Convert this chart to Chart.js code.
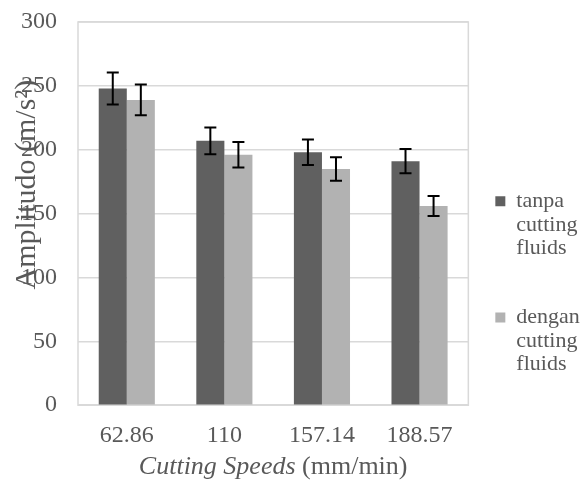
<!DOCTYPE html>
<html>
<head>
<meta charset="utf-8">
<script src="https://cdn.jsdelivr.net/npm/chart.js@4/dist/chart.umd.min.js"></script>
<style>
  html, body { margin: 0; padding: 0; background: #fff; }
  #wrap { width: 581px; height: 482px; }
</style>
</head>
<body>
<div id="wrap"><canvas id="ampChart" width="581" height="482"></canvas></div>
<script>
const categories = ['62.86', '110', '157.14', '188.57'];
const tanpaValues = [248, 207, 198, 191];
const tanpaErrors = [12.5, 10.5, 10, 9.5];
const denganValues = [239, 196, 185, 156];
const denganErrors = [12, 10, 9.2, 7.8];
const yTicks = [0, 50, 100, 150, 200, 250, 300];
// legend labels wrapped on lines; the blank last line gives the gap between items
const legendTanpa = ['tanpa', 'cutting', 'fluids', ''];
const legendDengan = ['dengan', 'cutting', 'fluids', ''];

const textColor = '#595959';
const serif = '"Liberation Serif", "Times New Roman", serif';

// frame around the plot area
const framePlugin = {
    id: 'frame',
    beforeDatasetsDraw(chart) {
        const a = chart.chartArea;
        const ctx = chart.ctx;
        ctx.save();
        ctx.strokeStyle = '#d9d9d9';
        ctx.lineWidth = 1.5;
        ctx.strokeRect(a.left, a.top, a.right - a.left, a.bottom - a.top);
        ctx.restore();
    }
};

// legend measures only the longest-by-chars line, so give it a bit more room
const legendWidthPlugin = {
    id: 'legendWidth',
    beforeLayout(chart) {
        const lg = chart.legend;
        if (lg && !lg._widened) {
            const fit = lg.fit;
            lg.fit = function () {
                fit.call(this);
                this.width += 10;
            };
            lg._widened = true;
        }
    }
};

// error bars from the error arrays
const errorBarPlugin = {
    id: 'errorBars',
    afterDatasetsDraw(chart) {
        const ctx = chart.ctx;
        const yScale = chart.scales.y;
        ctx.save();
        ctx.strokeStyle = '#000';
        ctx.lineWidth = 2;
        chart.data.datasets.forEach((ds, i) => {
            const meta = chart.getDatasetMeta(i);
            meta.data.forEach((bar, j) => {
                const v = ds.data[j];
                const e = ds.errors[j];
                const yTop = yScale.getPixelForValue(v + e);
                const yBot = yScale.getPixelForValue(v - e);
                const x = bar.x;
                ctx.beginPath();
                ctx.moveTo(x, yTop); ctx.lineTo(x, yBot);
                ctx.moveTo(x - 6, yTop); ctx.lineTo(x + 6, yTop);
                ctx.moveTo(x - 6, yBot); ctx.lineTo(x + 6, yBot);
                ctx.stroke();
            });
        });
        ctx.restore();
    }
};

// axis titles: y drawn over the tick labels like the original,
// x with the italic part
const titlesPlugin = {
    id: 'titles',
    afterDraw(chart) {
        const a = chart.chartArea;
        const ctx = chart.ctx;
        ctx.save();
        ctx.fillStyle = textColor;
        ctx.textBaseline = 'middle';

        ctx.save();
        ctx.translate(a.left - 51, (a.top + a.bottom) / 2 - 29);
        ctx.rotate(-Math.PI / 2);
        ctx.font = '30px ' + serif;
        ctx.textAlign = 'center';
        ctx.fillText('Amplitudo (m/s²)', 0, 0);
        ctx.restore();

        const part1 = 'Cutting Speeds';
        const part2 = ' (mm/min)';
        ctx.font = 'italic 26px ' + serif;
        const w1 = ctx.measureText(part1).width;
        ctx.font = '26px ' + serif;
        const w2 = ctx.measureText(part2).width;
        const x0 = (a.left + a.right) / 2 - (w1 + w2) / 2;
        const y0 = chart.height - 15;
        ctx.textAlign = 'left';
        ctx.font = 'italic 26px ' + serif;
        ctx.fillText(part1, x0, y0);
        ctx.font = '26px ' + serif;
        ctx.fillText(part2, x0 + w1, y0);
        ctx.restore();
    }
};

const ctx = document.getElementById('ampChart').getContext('2d');
new Chart(ctx, {
    type: 'bar',
    data: {
        labels: categories,
        datasets: [
            {
                label: legendTanpa,
                data: tanpaValues,
                errors: tanpaErrors,
                backgroundColor: '#606060',
                barPercentage: 1,
                categoryPercentage: 0.575
            },
            {
                label: legendDengan,
                data: denganValues,
                errors: denganErrors,
                backgroundColor: '#b2b2b2',
                barPercentage: 1,
                categoryPercentage: 0.575
            }
        ]
    },
    options: {
        responsive: false,
        animation: false,
        layout: { padding: { left: 0, right: 1, top: 22, bottom: 24 } },
        plugins: {
            tooltip: { enabled: false },
            legend: {
                position: 'right',
                title: { display: true, text: ' ', font: { size: 10 }, padding: { top: 0, bottom: 99 } },
                labels: {
                    boxWidth: 10,
                    boxHeight: 10,
                    padding: 22,
                    color: textColor,
                    font: { family: serif, size: 22, lineHeight: 1.07 }
                }
            }
        },
        scales: {
            x: {
                grid: { display: false },
                border: { display: false },
                ticks: { color: textColor, font: { family: serif, size: 24 }, padding: 8 }
            },
            y: {
                min: 0,
                max: 300,
                afterBuildTicks(scale) {
                    scale.ticks = yTicks.map(v => ({ value: v }));
                },
                afterFit(scale) { scale.paddingTop = 0; },
                grid: { color: '#d9d9d9', lineWidth: 1.5, drawTicks: false },
                border: { display: false },
                ticks: { color: textColor, font: { family: serif, size: 24 }, padding: 21 }
            },
            gap: {
                position: 'right',
                grid: { display: false },
                border: { display: false },
                ticks: { display: false },
                afterFit(scale) { scale.width = 5; }
            }
        }
    },
    plugins: [framePlugin, legendWidthPlugin, errorBarPlugin, titlesPlugin]
});
</script>
</body>
</html>
